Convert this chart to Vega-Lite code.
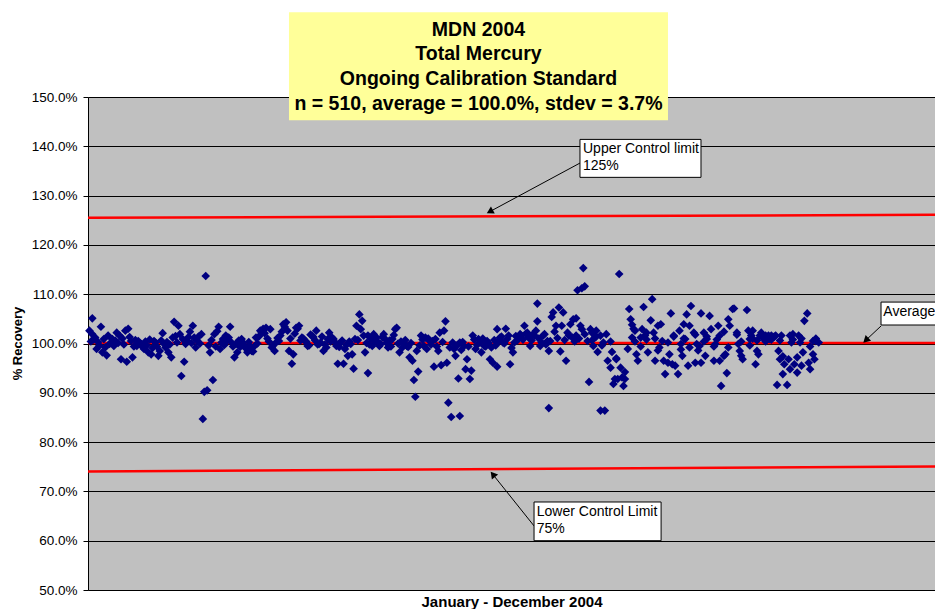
{
  "$schema": "https://vega.github.io/schema/vega-lite/v6.json",
  "autosize": "none",
  "padding": {"left": 88, "top": 97, "right": 0, "bottom": 19},
  "width": 847,
  "height": 493,
  "background": "white",
  "config": {
    "view": {"stroke": null, "fill": "#C0C0C0"},
    "font": "Liberation Sans",
    "text": {"font": "Liberation Sans"}
  },
  "datasets": {
    "pts": [
      {"n":1,"r":102.6},{"n":3,"r":105.1},{"n":3,"r":101.9},{"n":5,"r":101.2},{"n":6,"r":98.9},{"n":9,"r":103.4},{"n":10,"r":98.2},{"n":13,"r":97.6},{"n":14,"r":101.6},{"n":15,"r":99.9},{"n":17,"r":100.9},{"n":20,"r":102.2},{"n":22,"r":101.6},{"n":23,"r":96.8},{"n":26,"r":102.6},{"n":27,"r":96.3},{"n":28,"r":103.0},{"n":30,"r":100.5},{"n":31,"r":97.2},{"n":34,"r":99.5},{"n":35,"r":100.5},{"n":37,"r":99.9},{"n":39,"r":98.9},{"n":42,"r":98.2},{"n":44,"r":97.8},{"n":46,"r":100.5},{"n":49,"r":97.5},{"n":50,"r":98.5},{"n":52,"r":102.1},{"n":53,"r":99.9},{"n":56,"r":98.2},{"n":58,"r":97.2},{"n":59,"r":101.2},{"n":60,"r":104.4},{"n":63,"r":103.6},{"n":64,"r":101.9},{"n":65,"r":93.4},{"n":67,"r":96.3},{"n":68,"r":99.9},{"n":71,"r":102.4},{"n":73,"r":103.6},{"n":74,"r":101.2},{"n":75,"r":99.2},{"n":79,"r":101.9},{"n":82,"r":113.7},{"n":80,"r":84.7},{"n":81,"r":90.2},{"n":83,"r":90.5},{"n":85,"r":98.2},{"n":87,"r":92.6},{"n":88,"r":101.9},{"n":91,"r":103.4},{"n":92,"r":98.9},{"n":94,"r":100.9},{"n":96,"r":101.6},{"n":99,"r":103.4},{"n":100,"r":100.2},{"n":102,"r":97.2},{"n":104,"r":98.2},{"n":107,"r":100.9},{"n":109,"r":99.5},{"n":111,"r":98.2},{"n":114,"r":98.5},{"n":116,"r":99.5},{"n":117,"r":101.2},{"n":120,"r":102.6},{"n":122,"r":103.0},{"n":124,"r":103.2},{"n":127,"r":102.9},{"n":128,"r":99.2},{"n":130,"r":98.5},{"n":131,"r":100.2},{"n":134,"r":101.6},{"n":136,"r":103.9},{"n":138,"r":104.3},{"n":139,"r":102.6},{"n":140,"r":98.5},{"n":142,"r":95.9},{"n":143,"r":97.8},{"n":145,"r":103.2},{"n":147,"r":103.6},{"n":149,"r":101.2},{"n":151,"r":100.5},{"n":153,"r":99.5},{"n":156,"r":101.6},{"n":159,"r":102.6},{"n":161,"r":99.9},{"n":164,"r":98.5},{"n":166,"r":99.2},{"n":168,"r":102.2},{"n":170,"r":101.2},
      {"n":2,"r":100.4},{"n":4,"r":100.8},{"n":7,"r":100.3},{"n":8,"r":99.6},{"n":11,"r":100.9},{"n":12,"r":99.2},{"n":16,"r":100.2},{"n":18,"r":99.5},{"n":19,"r":100.6},{"n":21,"r":100.1},{"n":24,"r":101.0},{"n":25,"r":99.8},{"n":29,"r":101.3},{"n":32,"r":99.4},{"n":33,"r":100.7},{"n":36,"r":100.1},{"n":38,"r":99.3},{"n":40,"r":100.4},{"n":41,"r":99.6},{"n":43,"r":100.8},{"n":45,"r":99.1},{"n":47,"r":100.2},{"n":48,"r":99.4},{"n":51,"r":100.6},{"n":54,"r":99.2},{"n":55,"r":100.3},{"n":57,"r":99.8},{"n":61,"r":101.5},{"n":62,"r":100.2},{"n":66,"r":100.9},{"n":69,"r":100.4},{"n":70,"r":101.3},{"n":72,"r":100.1},{"n":76,"r":100.6},{"n":77,"r":101.4},{"n":78,"r":100.0},{"n":84,"r":99.6},{"n":86,"r":100.7},{"n":89,"r":99.4},{"n":90,"r":102.5},{"n":93,"r":100.2},{"n":95,"r":99.7},{"n":97,"r":100.6},{"n":98,"r":101.2},{"n":101,"r":99.4},{"n":103,"r":99.9},{"n":105,"r":100.6},{"n":106,"r":99.3},{"n":108,"r":100.2},{"n":110,"r":99.0},{"n":112,"r":100.3},{"n":113,"r":99.5},{"n":115,"r":98.4},{"n":118,"r":100.0},{"n":119,"r":101.4},{"n":121,"r":102.2},{"n":123,"r":102.1},{"n":125,"r":101.0},{"n":126,"r":100.4},{"n":129,"r":99.6},{"n":132,"r":101.1},{"n":133,"r":100.5},{"n":135,"r":102.4},{"n":137,"r":103.4},{"n":141,"r":101.0},{"n":144,"r":102.0},{"n":146,"r":103.0},{"n":148,"r":100.6},{"n":150,"r":101.0},{"n":152,"r":100.4},{"n":154,"r":99.6},{"n":155,"r":101.8},{"n":157,"r":101.3},{"n":158,"r":100.7},{"n":160,"r":99.8},{"n":162,"r":100.2},{"n":163,"r":101.4},{"n":165,"r":99.8},{"n":167,"r":100.9},{"n":169,"r":100.4},
      {"n":171,"r":100.9},{"n":173,"r":99.5},{"n":174,"r":95.9},{"n":176,"r":100.2},{"n":178,"r":95.9},{"n":179,"r":98.9},{"n":181,"r":97.5},{"n":183,"r":99.9},{"n":184,"r":97.8},{"n":185,"r":94.9},{"n":186,"r":100.9},{"n":187,"r":103.6},{"n":189,"r":105.9},{"n":190,"r":102.9},{"n":191,"r":104.6},{"n":192,"r":101.6},{"n":193,"r":98.2},{"n":195,"r":94.0},{"n":195,"r":101.6},{"n":198,"r":99.5},{"n":199,"r":101.9},{"n":201,"r":101.2},{"n":203,"r":99.5},{"n":206,"r":101.9},{"n":207,"r":100.9},{"n":209,"r":99.2},{"n":212,"r":100.9},{"n":214,"r":102.9},{"n":215,"r":103.2},{"n":217,"r":98.2},{"n":220,"r":99.9},{"n":222,"r":99.5},{"n":224,"r":97.2},{"n":226,"r":96.5},{"n":227,"r":92.6},{"n":228,"r":89.2},{"n":229,"r":98.5},{"n":230,"r":94.3},{"n":232,"r":101.6},{"n":235,"r":101.2},{"n":236,"r":98.9},{"n":238,"r":100.5},{"n":241,"r":95.3},{"n":242,"r":100.9},{"n":244,"r":98.5},{"n":245,"r":102.2},{"n":246,"r":95.6},{"n":248,"r":102.6},{"n":249,"r":104.5},{"n":250,"r":96.1},{"n":251,"r":88.0},{"n":253,"r":85.1},{"n":255,"r":98.9},{"n":256,"r":97.5},{"n":258,"r":92.9},{"n":259,"r":85.3},{"n":259,"r":100.2},{"n":262,"r":99.5},{"n":263,"r":94.8},{"n":264,"r":96.8},{"n":266,"r":92.8},{"n":267,"r":94.5},{"n":268,"r":101.6},{"n":270,"r":98.9},{"n":272,"r":100.9},{"n":274,"r":98.2},{"n":276,"r":99.5},{"n":278,"r":100.5},{"n":280,"r":96.8},{"n":281,"r":99.2},{"n":282,"r":96.1},{"n":285,"r":95.3},{"n":285,"r":102.9},{"n":287,"r":101.2},{"n":289,"r":100.2},{"n":291,"r":103.0},{"n":293,"r":101.6},{"n":294,"r":95.8},{"n":296,"r":98.2},{"n":297,"r":100.2},{"n":300,"r":101.2},{"n":302,"r":101.6},{"n":304,"r":103.6},{"n":306,"r":102.2},{"n":308,"r":99.5},{"n":310,"r":101.9},{"n":311,"r":101.6},{"n":313,"r":104.5},{"n":313,"r":108.1},{"n":315,"r":99.5},{"n":317,"r":101.6},{"n":320,"r":100.5},{"n":321,"r":98.5},{"n":321,"r":86.9},{"n":323,"r":105.4},{"n":324,"r":106.3},{"n":326,"r":103.6},{"n":328,"r":107.3},{"n":329,"r":98.4},{"n":330,"r":103.6},{"n":331,"r":106.3},{"n":333,"r":96.5},{"n":335,"r":101.6},{"n":336,"r":103.9},{"n":338,"r":104.9},
      {"n":172,"r":100.3},{"n":175,"r":99.3},{"n":177,"r":100.6},{"n":180,"r":99.7},{"n":182,"r":100.4},{"n":188,"r":100.7},{"n":194,"r":100.1},{"n":196,"r":99.8},{"n":197,"r":100.9},{"n":200,"r":100.4},{"n":202,"r":100.3},{"n":204,"r":99.9},{"n":205,"r":101.3},{"n":208,"r":100.1},{"n":210,"r":100.6},{"n":211,"r":99.4},{"n":213,"r":101.7},{"n":216,"r":100.0},{"n":218,"r":100.4},{"n":219,"r":99.2},{"n":221,"r":100.7},{"n":223,"r":99.3},{"n":225,"r":100.1},{"n":231,"r":99.6},{"n":233,"r":100.8},{"n":234,"r":99.5},{"n":237,"r":101.0},{"n":239,"r":99.8},{"n":240,"r":100.5},{"n":243,"r":99.4},{"n":247,"r":100.3},{"n":252,"r":99.2},{"n":254,"r":100.2},{"n":257,"r":99.6},{"n":260,"r":98.7},{"n":261,"r":100.3},{"n":265,"r":99.4},{"n":269,"r":100.8},{"n":271,"r":99.7},{"n":273,"r":100.2},{"n":275,"r":101.0},{"n":277,"r":99.4},{"n":279,"r":100.1},{"n":283,"r":100.7},{"n":284,"r":99.6},{"n":286,"r":100.4},{"n":288,"r":101.4},{"n":290,"r":100.0},{"n":292,"r":100.9},{"n":295,"r":99.1},{"n":298,"r":101.5},{"n":299,"r":100.6},{"n":301,"r":101.9},{"n":303,"r":100.8},{"n":305,"r":102.0},{"n":307,"r":101.2},{"n":309,"r":100.6},{"n":312,"r":102.6},{"n":314,"r":101.0},{"n":316,"r":100.2},{"n":318,"r":101.9},{"n":319,"r":99.8},{"n":322,"r":100.5},{"n":325,"r":102.4},{"n":327,"r":101.1},{"n":332,"r":100.7},{"n":334,"r":102.2},{"n":337,"r":101.3},{"n":339,"r":100.4},
      {"n":341,"r":110.8},{"n":344,"r":111.2},{"n":345,"r":115.3},{"n":346,"r":111.6},{"n":370,"r":114.1},{"n":340,"r":105.1},{"n":340,"r":101.6},{"n":343,"r":103.6},{"n":344,"r":102.9},{"n":346,"r":101.9},{"n":348,"r":100.5},{"n":349,"r":92.2},{"n":350,"r":102.9},{"n":351,"r":102.2},{"n":352,"r":99.5},{"n":353,"r":101.2},{"n":354,"r":102.6},{"n":355,"r":98.3},{"n":357,"r":101.6},{"n":357,"r":86.4},{"n":359,"r":100.2},{"n":360,"r":86.4},{"n":361,"r":101.9},{"n":362,"r":96.5},{"n":364,"r":95.1},{"n":365,"r":98.3},{"n":366,"r":91.8},{"n":367,"r":92.8},{"n":368,"r":96.8},{"n":369,"r":92.8},{"n":371,"r":95.1},{"n":372,"r":93.1},{"n":373,"r":91.4},{"n":374,"r":92.8},{"n":376,"r":98.9},{"n":377,"r":107.0},{"n":378,"r":104.9},{"n":379,"r":101.2},{"n":380,"r":103.0},{"n":381,"r":102.6},{"n":382,"r":97.8},{"n":383,"r":96.5},{"n":385,"r":101.2},{"n":386,"r":102.9},{"n":387,"r":107.4},{"n":388,"r":101.6},{"n":389,"r":102.2},{"n":390,"r":98.2},{"n":392,"r":104.7},{"n":393,"r":109.0},{"n":394,"r":102.2},{"n":395,"r":96.5},{"n":397,"r":103.6},{"n":398,"r":99.2},{"n":399,"r":103.9},{"n":400,"r":100.5},{"n":401,"r":96.5},{"n":402,"r":93.8},{"n":404,"r":96.1},{"n":405,"r":97.8},{"n":406,"r":106.1},{"n":407,"r":95.8},{"n":408,"r":101.6},{"n":409,"r":95.5},{"n":411,"r":93.8},{"n":412,"r":102.6},{"n":413,"r":99.9},{"n":414,"r":97.5},{"n":415,"r":103.9},{"n":416,"r":100.9},{"n":417,"r":105.9},{"n":418,"r":95.5},{"n":419,"r":103.6},{"n":420,"r":107.6},{"n":422,"r":102.2},{"n":423,"r":96.1},{"n":424,"r":99.9},{"n":426,"r":99.5},{"n":427,"r":96.1},{"n":427,"r":106.1},{"n":429,"r":102.2},{"n":430,"r":97.5},{"n":431,"r":100.9},{"n":433,"r":105.6},{"n":434,"r":102.9},{"n":436,"r":96.5},{"n":437,"r":99.9},{"n":439,"r":103.6},{"n":440,"r":101.6},{"n":440,"r":96.5},{"n":441,"r":91.4},{"n":443,"r":97.5},{"n":444,"r":97.8},{"n":445,"r":94.0},{"n":446,"r":104.9},{"n":447,"r":103.6},{"n":449,"r":107.0},{"n":450,"r":107.1},{"n":452,"r":102.2},{"n":453,"r":99.9},{"n":454,"r":98.5},{"n":455,"r":97.5},{"n":456,"r":96.8},{"n":459,"r":106.8},{"n":460,"r":102.6},{"n":461,"r":100.9},{"n":462,"r":101.6},{"n":463,"r":102.6},{"n":465,"r":95.8},{"n":466,"r":98.5},{"n":467,"r":97.8},{"n":468,"r":101.6},{"n":469,"r":102.2},{"n":470,"r":101.2},{"n":472,"r":101.6},{"n":473,"r":100.9},{"n":474,"r":101.6},{"n":475,"r":100.9},{"n":476,"r":101.6},{"n":477,"r":101.2},{"n":479,"r":101.6},{"n":480,"r":91.6},{"n":481,"r":98.5},{"n":482,"r":96.8},{"n":483,"r":101.6},{"n":484,"r":93.8},{"n":485,"r":95.8},{"n":487,"r":91.6},{"n":488,"r":96.8},{"n":489,"r":101.6},{"n":490,"r":100.2},{"n":491,"r":101.9},{"n":492,"r":95.8},{"n":494,"r":94.1},{"n":495,"r":101.6},{"n":496,"r":100.2},{"n":497,"r":95.5},{"n":498,"r":98.2},{"n":499,"r":104.6},{"n":501,"r":106.1},{"n":502,"r":96.1},{"n":503,"r":94.8},{"n":505,"r":100.5},{"n":506,"r":96.8},{"n":507,"r":100.5},{"n":509,"r":100.2},
      {"n":342,"r":101.0},{"n":351,"r":100.6},{"n":354,"r":101.4},{"n":358,"r":99.6},{"n":364,"r":100.4},{"n":368,"r":97.0},{"n":374,"r":94.2},{"n":379,"r":103.8},{"n":381,"r":100.4},{"n":385,"r":99.4},{"n":389,"r":100.8},{"n":395,"r":101.0},{"n":397,"r":98.6},{"n":404,"r":100.2},{"n":408,"r":101.4},{"n":413,"r":98.8},{"n":415,"r":101.0},{"n":419,"r":99.2},{"n":423,"r":101.8},{"n":425,"r":98.6},{"n":429,"r":100.4},{"n":431,"r":101.4},{"n":436,"r":99.4},{"n":438,"r":100.8},{"n":443,"r":102.4},{"n":446,"r":99.2},{"n":452,"r":101.8},{"n":455,"r":100.4},{"n":461,"r":99.6},{"n":463,"r":101.0},{"n":466,"r":100.6},{"n":470,"r":101.2},{"n":472,"r":100.4},{"n":474,"r":101.0},{"n":476,"r":100.8},{"n":478,"r":101.4},{"n":482,"r":100.6},{"n":484,"r":97.4},{"n":489,"r":94.8},{"n":491,"r":100.8},{"n":494,"r":97.2},{"n":497,"r":101.0},{"n":503,"r":99.4},{"n":505,"r":97.8},{"n":507,"r":101.0}
    ],
    "limits": [
      {"name":"Upper Control limit","n":0,"r":125.5,"n2":590,"r2":126.1},
      {"name":"Lower Control Limit","n":0,"r":74.05,"n2":590,"r2":75.05},
      {"name":"Average","n":0,"r":100.1,"n2":590,"r2":100.1}
    ],
    "boxes": [
      {"n":342.7,"r":141.4,"n2":427,"r2":133.7},
      {"n":310.7,"r":67.85,"n2":399.2,"r2":60.0},
      {"n":552.4,"r":108.4,"n2":620,"r2":103.75}
    ],
    "labels": [
      {"t":"Upper Control limit","n":344.8,"r":138.58},
      {"t":"125%","n":344.8,"r":135.19},
      {"t":"Lower Control Limit","n":312.6,"r":65.0},
      {"t":"75%","n":312.6,"r":61.5},
      {"t":"Average","n":554.0,"r":105.58}
    ],
    "arrows": [
      {"id":"u","n":342.7,"r":136.6,"n2":279.9,"r2":126.75},
      {"id":"l","n":310.7,"r":63.0,"n2":282.0,"r2":73.45},
      {"id":"a","n":552.4,"r":103.55,"n2":541.8,"r2":100.65}
    ],
    "titlebox": [{"n":140,"r":167.2,"n2":404,"r2":145.3}],
    "titles": [
      {"t":"MDN 2004","n":272,"r":162.43},
      {"t":"Total Mercury","n":272,"r":157.5},
      {"t":"Ongoing Calibration Standard","n":272,"r":152.5},
      {"t":"n = 510, average = 100.0%, stdev = 3.7%","n":272,"r":147.45}
    ]
  },
  "encoding": {
    "x": {
      "field": "n", "type": "quantitative",
      "scale": {"domain": [0, 590], "nice": false, "zero": false},
      "axis": {
        "title": "January - December 2004",
        "labels": false, "ticks": false, "grid": false,
        "domainColor": "#000000", "domainWidth": 1,
        "titleFont": "Liberation Sans", "titleFontSize": 15, "titleFontWeight": "bold",
        "titleColor": "#000000", "titleBaseline": "alphabetic", "titleY": 16
      }
    },
    "y": {
      "field": "r", "type": "quantitative",
      "scale": {"domain": [50, 150], "nice": false, "zero": false},
      "axis": {
        "title": "% Recovery",
        "values": [50, 60, 70, 80, 90, 100, 110, 120, 130, 140, 150],
        "labelExpr": "format(datum.value, '.1f') + '%'",
        "grid": true, "gridColor": "#000000", "gridWidth": 1, "gridOpacity": 1,
        "domainColor": "#000000", "tickColor": "#000000", "tickSize": 5,
        "labelPadding": 6, "labelFont": "Liberation Sans", "labelFontSize": 13.5, "labelColor": "#000000",
        "titleFont": "Liberation Sans", "titleFontSize": 13, "titleFontWeight": "bold", "titleColor": "#000000",
        "titleAngle": 270, "titleBaseline": "middle", "titleX": -71, "titleY": 246
      }
    }
  },
  "layer": [
    {
      "data": {"name": "limits"},
      "mark": {"type": "rule", "color": "#FF0000", "strokeWidth": 2.5},
      "encoding": {"x2": {"field": "n2"}, "y2": {"field": "r2"}}
    },
    {
      "data": {"name": "pts"},
      "mark": {"type": "point", "shape": "diamond", "filled": true, "size": 75, "color": "#000080", "opacity": 1, "strokeWidth": 0}
    },
    {
      "data": {"name": "arrows"},
      "mark": {"type": "rule", "color": "#000000", "strokeWidth": 1},
      "encoding": {"x2": {"field": "n2"}, "y2": {"field": "r2"}}
    },
    {
      "data": {"values": [{"n": 279.9, "r": 126.75}]},
      "mark": {"type": "point", "shape": "triangle-up", "filled": true, "size": 64, "color": "#000000", "opacity": 1, "angle": 241.5, "strokeWidth": 0}
    },
    {
      "data": {"values": [{"n": 282.0, "r": 73.45}]},
      "mark": {"type": "point", "shape": "triangle-up", "filled": true, "size": 64, "color": "#000000", "opacity": 1, "angle": 321.4, "strokeWidth": 0}
    },
    {
      "data": {"values": [{"n": 541.8, "r": 100.65}]},
      "mark": {"type": "point", "shape": "triangle-up", "filled": true, "size": 64, "color": "#000000", "opacity": 1, "angle": 226.7, "strokeWidth": 0}
    },
    {
      "data": {"name": "boxes"},
      "mark": {"type": "rect", "fill": "#FFFFFF", "stroke": "#000000", "strokeWidth": 1},
      "encoding": {"x2": {"field": "n2"}, "y2": {"field": "r2"}}
    },
    {
      "data": {"name": "labels"},
      "mark": {"type": "text", "align": "left", "baseline": "alphabetic", "fontSize": 14, "font": "Liberation Sans", "color": "#000000"},
      "encoding": {"text": {"field": "t"}}
    },
    {
      "data": {"name": "titlebox"},
      "mark": {"type": "rect", "fill": "#FFFF99", "strokeWidth": 0},
      "encoding": {"x2": {"field": "n2"}, "y2": {"field": "r2"}}
    },
    {
      "data": {"name": "titles"},
      "mark": {"type": "text", "align": "center", "baseline": "alphabetic", "fontSize": 19.5, "fontWeight": "bold", "font": "Liberation Sans", "color": "#000000"},
      "encoding": {"text": {"field": "t"}}
    }
  ]
}
